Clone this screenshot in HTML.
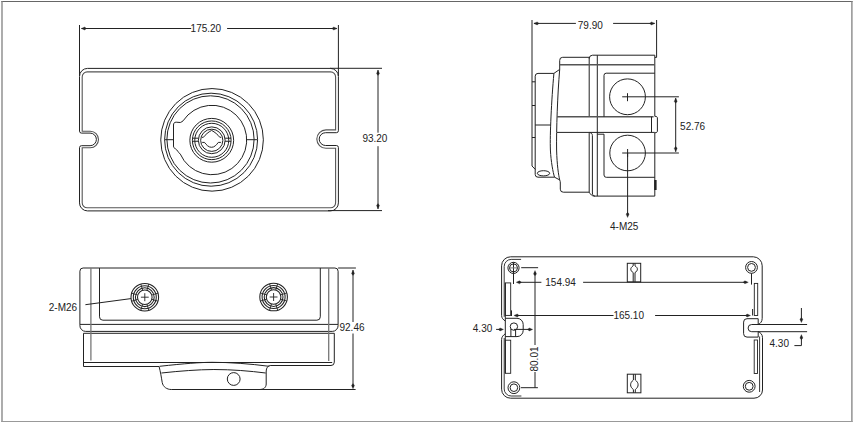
<!DOCTYPE html>
<html><head><meta charset="utf-8"><style>
html,body{margin:0;padding:0;background:#fff;}
body{width:854px;height:424px;overflow:hidden;}
svg{display:block;}
text{font-family:"Liberation Sans",sans-serif;fill:#222;}
</style></head><body>
<svg width="854" height="424" viewBox="0 0 854 424">
<rect width="854" height="424" fill="#fff"/>
<line x1="1.3" y1="1.5" x2="852.6" y2="1.5" stroke="#666" stroke-width="1.0"/>
<line x1="2.0" y1="1" x2="2.0" y2="422.1" stroke="#808080" stroke-width="1.3"/>
<line x1="851.9" y1="1" x2="851.9" y2="422.1" stroke="#808080" stroke-width="1.3"/>
<line x1="1.3" y1="421.5" x2="852.6" y2="421.5" stroke="#999" stroke-width="1.2"/>
<line x1="79.5" y1="25" x2="79.5" y2="76" stroke="#222" stroke-width="1.0"/>
<line x1="338.4" y1="25" x2="338.4" y2="76" stroke="#222" stroke-width="1.0"/>
<line x1="81.5" y1="28.5" x2="191.2" y2="28.5" stroke="#222" stroke-width="1.0"/>
<line x1="227.1" y1="28.5" x2="336.8" y2="28.5" stroke="#222" stroke-width="1.0"/>
<polygon points="81.30,28.50 84.70,27.00 86.50,28.50 84.70,30.00" fill="#222" stroke="#222" stroke-width="0.3"/>
<polygon points="337.10,28.50 333.70,27.00 331.90,28.50 333.70,30.00" fill="#222" stroke="#222" stroke-width="0.3"/>
<text x="190.6" y="32.1" font-size="10" text-anchor="start">175.20</text>
<line x1="330" y1="68.3" x2="382" y2="68.3" stroke="#222" stroke-width="1.0"/>
<line x1="328" y1="210.6" x2="382" y2="210.6" stroke="#222" stroke-width="1.0"/>
<line x1="378" y1="70" x2="378" y2="132.7" stroke="#222" stroke-width="1.0"/>
<line x1="378" y1="146.2" x2="378" y2="209" stroke="#222" stroke-width="1.0"/>
<polygon points="378.00,70.20 376.50,73.60 378.00,75.40 379.50,73.60" fill="#222" stroke="#222" stroke-width="0.3"/>
<polygon points="378.00,208.80 376.50,205.40 378.00,203.60 379.50,205.40" fill="#222" stroke="#222" stroke-width="0.3"/>
<text x="362.4" y="142.1" font-size="10" text-anchor="start">93.20</text>
<path d="M 79.5,76.4 A 8,8 0 0 1 87.5,68.4 H 330.4 A 8,8 0 0 1 338.4,76.4 V 130.7 A 2,2 0 0 1 336.4,132.7 H 325.6 A 6.4,6.4 0 0 0 325.6,145.5 H 336.4 A 2,2 0 0 1 338.4,147.5 V 202.9 A 8,8 0 0 1 330.4,210.9 H 87.5 A 8,8 0 0 1 79.5,202.9 V 147.7 A 2,2 0 0 1 81.5,145.7 H 90.1 A 6.3,6.3 0 0 0 90.1,133.1 H 81.5 A 2,2 0 0 1 79.5,131.1 Z" stroke="#222" stroke-width="1.0" fill="none" />
<path d="M 82.2,76.9 A 5,5 0 0 1 87.2,71.9 H 330.6 A 5,5 0 0 1 335.6,76.9 V 129.9 H 326 A 9.2,9.2 0 0 0 326,148.3 H 335.6 V 202.8 A 5,5 0 0 1 330.6,207.8 H 87.2 A 5,5 0 0 1 82.2,202.8 V 147.7 H 90.25 A 8.25,8.25 0 0 0 90.25,131.2 H 82.2 Z" stroke="#555" stroke-width="1.1" fill="none" />
<circle cx="212.05" cy="139.85" r="51.3" stroke="#222" stroke-width="1.0" fill="none"/>
<circle cx="211.1" cy="139.7" r="46.5" stroke="#222" stroke-width="1.0" fill="none"/>
<circle cx="210.5" cy="139.4" r="43.6" stroke="#222" stroke-width="1.0" fill="none"/>
<path d="M 183.06,120.85 A 34.7,34.7 0 1 1 180.30,154.11 C 178.3,152.5 177,149.6 175.5,148.8 C 174,148 173.5,147.5 173.5,146 V 125 C 173.5,123 174.5,122.2 176.2,122.2 L 180.3,122.5 C 181.5,122.3 182.6,121 183.06,120.85" stroke="#222" stroke-width="1.0" fill="none" />
<line x1="164.75" y1="139.7" x2="173.5" y2="139.7" stroke="#222" stroke-width="1.0"/>
<line x1="246.8" y1="139.7" x2="257.4" y2="139.7" stroke="#222" stroke-width="1.0"/>
<circle cx="211.75" cy="140.3" r="21.9" stroke="#222" stroke-width="1.0" fill="none"/>
<circle cx="211.75" cy="140.3" r="19.35" stroke="#222" stroke-width="1.0" fill="none"/>
<circle cx="211.75" cy="140.3" r="17.0" stroke="#222" stroke-width="1.0" fill="none"/>
<circle cx="211.75" cy="140.3" r="13.4" stroke="#222" stroke-width="1.0" fill="none"/>
<circle cx="211.75" cy="140.3" r="11.1" stroke="#222" stroke-width="1.0" fill="none"/>
<line x1="192.4" y1="138.2" x2="198.4" y2="138.2" stroke="#222" stroke-width="1.0"/>
<line x1="225.1" y1="138.2" x2="231.1" y2="138.2" stroke="#222" stroke-width="1.0"/>
<line x1="192.4" y1="141.25" x2="198.4" y2="141.25" stroke="#222" stroke-width="1.0"/>
<line x1="225.1" y1="141.25" x2="231.1" y2="141.25" stroke="#222" stroke-width="1.0"/>
<path d="M 202.0,137.3 H 203.4 C 205.5,134.6 208.2,132.2 211.6,130.4 C 215,132.2 217.7,134.6 219.8,137.3 H 221.2" stroke="#222" stroke-width="1.0" fill="none" />
<path d="M 202.2,142.4 H 204.5 C 206.5,145 208.5,147.3 211.5,147.3 C 214.5,147.3 216.4,145 218.3,142.4 H 220.9" stroke="#222" stroke-width="1.0" fill="none" />
<line x1="532" y1="20" x2="532" y2="166" stroke="#222" stroke-width="1.0"/>
<line x1="532" y1="166" x2="535.4" y2="169.5" stroke="#222" stroke-width="1.0"/>
<line x1="656.6" y1="20" x2="656.6" y2="57.4" stroke="#222" stroke-width="1.0"/>
<line x1="655" y1="57.4" x2="656.6" y2="57.4" stroke="#222" stroke-width="1.0"/>
<line x1="534" y1="23.4" x2="575.9" y2="23.4" stroke="#222" stroke-width="1.0"/>
<line x1="613.1" y1="23.4" x2="654.6" y2="23.4" stroke="#222" stroke-width="1.0"/>
<polygon points="533.80,23.40 537.20,21.90 539.00,23.40 537.20,24.90" fill="#222" stroke="#222" stroke-width="0.3"/>
<polygon points="654.80,23.40 651.40,21.90 649.60,23.40 651.40,24.90" fill="#222" stroke="#222" stroke-width="0.3"/>
<text x="577.8" y="29.2" font-size="10" text-anchor="start">79.90</text>
<path d="M 553.9,73.4 H 538 A 2.8,2.8 0 0 0 535.2,76.2 V 174.4 A 2.8,2.8 0 0 0 538,177.2 H 554.5" stroke="#222" stroke-width="1.0" fill="none" />
<line x1="553.9" y1="73.4" x2="559.7" y2="69.4" stroke="#222" stroke-width="1.0"/>
<line x1="532" y1="81.8" x2="535.2" y2="81.8" stroke="#222" stroke-width="1.0"/>
<line x1="532" y1="105.5" x2="535.2" y2="105.5" stroke="#222" stroke-width="1.0"/>
<line x1="532" y1="137.5" x2="535.2" y2="137.5" stroke="#222" stroke-width="1.0"/>
<line x1="535.2" y1="125" x2="550.5" y2="125" stroke="#222" stroke-width="1.0"/>
<ellipse cx="543.5" cy="173.3" rx="6.2" ry="2.6" stroke="#222" stroke-width="1.0" fill="none"/>
<path d="M 553.9,73.4 C 551.5,100 549.8,135 550.4,150 C 551,162 553,172 554.5,177.2" stroke="#222" stroke-width="1.0" fill="none" />
<path d="M 559.7,69.4 C 557.5,95 556.3,130 556.6,150 C 557,165 558.5,175 559.7,179.9" stroke="#222" stroke-width="1.0" fill="none" />
<line x1="554.5" y1="177.2" x2="559.7" y2="179.9" stroke="#222" stroke-width="1.0"/>
<path d="M 559.7,69.4 V 60.4 A 3,3 0 0 1 562.7,57.3 H 589.2" stroke="#222" stroke-width="1.0" fill="none" />
<path d="M 559.7,179.9 C 560.2,181 560.3,182 560.3,183 V 189.2 A 3,3 0 0 0 563.3,192.2 H 589.2" stroke="#222" stroke-width="1.0" fill="none" />
<line x1="589.2" y1="57.3" x2="589.2" y2="116.7" stroke="#222" stroke-width="1.0"/>
<line x1="589.2" y1="132.5" x2="589.2" y2="192.2" stroke="#222" stroke-width="1.0"/>
<path d="M 589.2,192.2 C 590.5,194.5 592,196 594.2,196.1" stroke="#222" stroke-width="1.0" fill="none" />
<path d="M 589.8,132.5 C 591.5,133 592.4,134 592.4,135.5 V 193 C 592.4,195 593.5,196.1 595,196.1" stroke="#222" stroke-width="1.0" fill="none" />
<path d="M 589.2,58.5 A 3.4,3.4 0 0 1 592.6,55.2 H 654.8 V 116.3 C 656.8,116.3 657.4,117 657.4,118 V 131 C 657.4,132 656.8,132.8 654.8,132.8 V 196.1 H 594.2" stroke="#222" stroke-width="1.0" fill="none" />
<line x1="597.3" y1="55.2" x2="597.3" y2="196.1" stroke="#222" stroke-width="1.0"/>
<line x1="559.7" y1="64.8" x2="654.8" y2="64.8" stroke="#555" stroke-width="1.4"/>
<line x1="557" y1="116.8" x2="653.6" y2="116.8" stroke="#555" stroke-width="1.4"/>
<line x1="557" y1="132.4" x2="654.8" y2="132.4" stroke="#222" stroke-width="1.0"/>
<line x1="651.5" y1="116.8" x2="651.5" y2="132.4" stroke="#222" stroke-width="1.0"/>
<path d="M 654.8,73.2 H 606.2 A 2.2,2.2 0 0 0 604,75.4 V 116.8" stroke="#222" stroke-width="1.0" fill="none" />
<path d="M 597.3,134.2 H 604 V 175 A 2.3,2.3 0 0 0 606.3,177.3 H 654.8" stroke="#222" stroke-width="1.0" fill="none" />
<circle cx="627.5" cy="96.8" r="17.9" stroke="#222" stroke-width="1.0" fill="none"/>
<circle cx="627.6" cy="153.0" r="17.8" stroke="#222" stroke-width="1.0" fill="none"/>
<line x1="622.2" y1="96.8" x2="678.9" y2="96.8" stroke="#222" stroke-width="1.0"/>
<line x1="627.5" y1="93.2" x2="627.5" y2="101.2" stroke="#222" stroke-width="1.0"/>
<line x1="622.2" y1="153.0" x2="678.9" y2="153.0" stroke="#222" stroke-width="1.0"/>
<line x1="627.6" y1="149.0" x2="627.6" y2="157.0" stroke="#222" stroke-width="1.0"/>
<line x1="627.6" y1="153.0" x2="627.6" y2="216" stroke="#222" stroke-width="1.0"/>
<polygon points="627.60,217.50 626.10,214.10 627.60,212.30 629.10,214.10" fill="#222" stroke="#222" stroke-width="0.3"/>
<rect x="654.2" y="180" width="2.4" height="10" fill="#222"/>
<line x1="675.7" y1="98.2" x2="675.7" y2="151.8" stroke="#222" stroke-width="1.0"/>
<polygon points="675.70,98.00 674.20,101.40 675.70,103.20 677.20,101.40" fill="#222" stroke="#222" stroke-width="0.3"/>
<polygon points="675.70,151.60 674.20,148.20 675.70,146.40 677.20,148.20" fill="#222" stroke="#222" stroke-width="0.3"/>
<text x="680.1" y="130.4" font-size="10" text-anchor="start">52.76</text>
<text x="610.0" y="230.0" font-size="10" text-anchor="start">4-M25</text>
<path d="M 79.9,324.4 V 271.2 A 3.2,3.2 0 0 1 83.1,268 H 334.9 A 3.2,3.2 0 0 1 338.1,271.2 V 324.4" stroke="#222" stroke-width="1.0" fill="none" />
<path d="M 79.9,324.4 V 325.6 A 5.8,5.8 0 0 0 85.7,331.4 H 332.3 A 5.8,5.8 0 0 0 338.1,325.6 V 324.4" stroke="#222" stroke-width="1.0" fill="none" />
<line x1="79.9" y1="324.4" x2="338.1" y2="324.4" stroke="#222" stroke-width="1.0"/>
<line x1="83.5" y1="333.3" x2="334.4" y2="333.3" stroke="#222" stroke-width="1.0"/>
<path d="M 83.5,333.3 V 366.5 H 159.1" stroke="#222" stroke-width="1.0" fill="none" />
<path d="M 270.2,365.5 H 331 A 3.3,3.3 0 0 0 334.3,362.2 V 333.3" stroke="#222" stroke-width="1.0" fill="none" />
<line x1="83.5" y1="362.5" x2="332.2" y2="362.5" stroke="#222" stroke-width="1.0"/>
<line x1="90.9" y1="268" x2="90.9" y2="360.6" stroke="#777" stroke-width="1.3"/>
<line x1="328.7" y1="268" x2="328.7" y2="361" stroke="#777" stroke-width="1.3"/>
<path d="M 99.5,268 V 316.8 A 3.4,3.4 0 0 0 102.9,320.2 H 316.9 A 3.4,3.4 0 0 0 320.3,316.8 V 268" stroke="#222" stroke-width="1.0" fill="none" />
<path d="M 159.1,366.5 C 160.5,372 161.5,378 162.2,382.4 C 163,387 167,389.5 171.3,389.5 H 355.6" stroke="#222" stroke-width="1.0" fill="none" />
<path d="M 259.6,389.5 C 263.5,389.5 266.2,387.5 266.2,384 V 371 C 266.4,368 267.5,366 270.2,365.5" stroke="#222" stroke-width="1.0" fill="none" />
<path d="M 159.6,366.3 C 185,363.5 200,362.4 212,362.3 C 230,362.3 250,363.8 269.2,366.3" stroke="#222" stroke-width="1.0" fill="none" />
<path d="M 161.4,373 C 180,371 198,369.6 213.9,369.5 C 232,369.5 250,371 265.7,373" stroke="#222" stroke-width="1.0" fill="none" />
<circle cx="233.7" cy="379.0" r="6.4" stroke="#222" stroke-width="1.0" fill="none"/>
<circle cx="144.8" cy="297.2" r="13.8" stroke="#222" stroke-width="1.05" fill="none"/>
<circle cx="144.8" cy="297.2" r="11.5" stroke="#222" stroke-width="1.05" fill="none"/>
<circle cx="144.8" cy="297.2" r="9.4" stroke="#222" stroke-width="1.05" fill="none"/>
<circle cx="144.8" cy="297.2" r="7.3" stroke="#222" stroke-width="1.05" fill="none"/>
<line x1="151.78" y1="295.07" x2="158.0" y2="293.17" stroke="#222" stroke-width="0.9"/>
<line x1="151.78" y1="299.33" x2="158.0" y2="301.23" stroke="#222" stroke-width="0.9"/>
<line x1="146.93" y1="304.18" x2="148.83" y2="310.4" stroke="#222" stroke-width="0.9"/>
<line x1="142.67" y1="304.18" x2="140.77" y2="310.4" stroke="#222" stroke-width="0.9"/>
<line x1="137.82" y1="299.33" x2="131.6" y2="301.23" stroke="#222" stroke-width="0.9"/>
<line x1="137.82" y1="295.07" x2="131.6" y2="293.17" stroke="#222" stroke-width="0.9"/>
<line x1="142.67" y1="290.22" x2="140.77" y2="284.0" stroke="#222" stroke-width="0.9"/>
<line x1="146.93" y1="290.22" x2="148.83" y2="284.0" stroke="#222" stroke-width="0.9"/>
<line x1="140.9" y1="297.2" x2="148.70000000000002" y2="297.2" stroke="#222" stroke-width="0.9"/>
<line x1="144.8" y1="293.2" x2="144.8" y2="301.2" stroke="#222" stroke-width="0.9"/>
<circle cx="273.6" cy="297.0" r="13.8" stroke="#222" stroke-width="1.05" fill="none"/>
<circle cx="273.6" cy="297.0" r="11.5" stroke="#222" stroke-width="1.05" fill="none"/>
<circle cx="273.6" cy="297.0" r="9.4" stroke="#222" stroke-width="1.05" fill="none"/>
<circle cx="273.6" cy="297.0" r="7.3" stroke="#222" stroke-width="1.05" fill="none"/>
<line x1="280.58" y1="294.87" x2="286.8" y2="292.97" stroke="#222" stroke-width="0.9"/>
<line x1="280.58" y1="299.13" x2="286.8" y2="301.03" stroke="#222" stroke-width="0.9"/>
<line x1="275.73" y1="303.98" x2="277.63" y2="310.2" stroke="#222" stroke-width="0.9"/>
<line x1="271.47" y1="303.98" x2="269.57" y2="310.2" stroke="#222" stroke-width="0.9"/>
<line x1="266.62" y1="299.13" x2="260.4" y2="301.03" stroke="#222" stroke-width="0.9"/>
<line x1="266.62" y1="294.87" x2="260.4" y2="292.97" stroke="#222" stroke-width="0.9"/>
<line x1="271.47" y1="290.02" x2="269.57" y2="283.8" stroke="#222" stroke-width="0.9"/>
<line x1="275.73" y1="290.02" x2="277.63" y2="283.8" stroke="#222" stroke-width="0.9"/>
<line x1="269.70000000000005" y1="297.0" x2="277.5" y2="297.0" stroke="#222" stroke-width="0.9"/>
<line x1="273.6" y1="293.0" x2="273.6" y2="301.0" stroke="#222" stroke-width="0.9"/>
<line x1="85.4" y1="304.7" x2="131" y2="298.6" stroke="#222" stroke-width="1.0"/>
<text x="48.8" y="310.8" font-size="10" text-anchor="start">2-M26</text>
<line x1="338.1" y1="268" x2="355.9" y2="268" stroke="#222" stroke-width="1.0"/>
<line x1="353" y1="270" x2="353" y2="322" stroke="#222" stroke-width="1.0"/>
<line x1="353" y1="333.5" x2="353" y2="387" stroke="#222" stroke-width="1.0"/>
<polygon points="353.00,270.20 351.50,273.60 353.00,275.40 354.50,273.60" fill="#222" stroke="#222" stroke-width="0.3"/>
<polygon points="353.00,388.80 351.50,385.40 353.00,383.60 354.50,385.40" fill="#222" stroke="#222" stroke-width="0.3"/>
<text x="339.5" y="331.2" font-size="10" text-anchor="start">92.46</text>
<path d="M 505.3,321 C 503.3,319.8 501.6,318 501.6,315.5 V 265.8 A 9,9 0 0 1 510.6,256.8 H 753.4 A 9,9 0 0 1 762.2,265.8 V 318.3 C 762.2,321.5 760.5,323.5 758.2,324.4" stroke="#222" stroke-width="1.0" fill="none" />
<path d="M 758.2,331.6 C 760.5,332.5 762.5,334.5 762.5,337.7 V 390 A 8.5,8.2 0 0 1 754.0,398.2 H 510.6 A 9,9 0 0 1 501.6,389.2 V 339.5 C 501.6,337 503.3,335 505.3,333.8" stroke="#222" stroke-width="1.0" fill="none" />
<path d="M 758.2,324.4 V 318.7 H 747 A 3.4,3.4 0 0 0 743.6,322.1 V 333.7 A 3.4,3.4 0 0 0 747,337.1 H 758.2 V 331.6" stroke="#222" stroke-width="1.0" fill="none" />
<path d="M 505.3,318.3 H 517 A 6.2,6.2 0 0 1 523.2,324.5 V 330.4 A 6.2,6.2 0 0 1 517,336.6 H 505.3" stroke="#222" stroke-width="1.0" fill="none" />
<line x1="505.3" y1="282.9" x2="505.3" y2="373.3" stroke="#222" stroke-width="1.0"/>
<path d="M 504.2,316.8 V 266.5 A 7,7 0 0 1 511.2,259.4 H 521.1" stroke="#222" stroke-width="0.9" fill="none" />
<path d="M 504.2,338 V 389 A 7,7 0 0 0 511.2,396 H 521.4" stroke="#222" stroke-width="0.9" fill="none" />
<path d="M 759.6,336.5 V 392" stroke="#222" stroke-width="0.9" fill="none" />
<rect x="505.3" y="282.9" width="5.4" height="32.5" stroke="#222" stroke-width="0.9" fill="none"/>
<rect x="505.3" y="340.2" width="5.4" height="33.1" stroke="#222" stroke-width="0.9" fill="none"/>
<rect x="754.3" y="283.4" width="3.4" height="32.1" stroke="#222" stroke-width="0.9" fill="none"/>
<rect x="754.2" y="340" width="3.3" height="33.5" stroke="#222" stroke-width="0.9" fill="none"/>
<circle cx="513.9" cy="326.6" r="3.7" stroke="#222" stroke-width="1.0" fill="none"/>
<line x1="510.9" y1="328.8" x2="510.9" y2="336.6" stroke="#222" stroke-width="1.0"/>
<line x1="515.6" y1="329.8" x2="515.6" y2="336.6" stroke="#222" stroke-width="1.0"/>
<circle cx="513.5" cy="267.9" r="5.6" stroke="#222" stroke-width="1.0" fill="none"/>
<circle cx="513.5" cy="267.9" r="4.0" stroke="#222" stroke-width="1.0" fill="none"/>
<circle cx="751.5" cy="267.4" r="5.9" stroke="#222" stroke-width="1.0" fill="none"/>
<circle cx="751.5" cy="267.4" r="3.9" stroke="#222" stroke-width="1.0" fill="none"/>
<circle cx="513.9" cy="387.7" r="5.9" stroke="#222" stroke-width="1.0" fill="none"/>
<circle cx="513.9" cy="387.7" r="3.8" stroke="#222" stroke-width="1.0" fill="none"/>
<circle cx="749.2" cy="386.3" r="5.9" stroke="#222" stroke-width="1.0" fill="none"/>
<circle cx="749.2" cy="386.3" r="3.9" stroke="#222" stroke-width="1.0" fill="none"/>
<line x1="513.5" y1="262.3" x2="513.5" y2="273.5" stroke="#222" stroke-width="1.0"/>
<line x1="509.9" y1="267.9" x2="517.3" y2="267.9" stroke="#777" stroke-width="1.0"/>
<rect x="627.3" y="263.3" width="13.4" height="18.6" stroke="#222" stroke-width="1" fill="none"/>
<rect x="627.3" y="374.2" width="13.6" height="18.6" stroke="#222" stroke-width="1" fill="none"/>
<path d="M 633.2,263.3 V 265.8 C 631.5,267 630.8,268 630.8,269.2 C 630.8,270.5 631.8,271.8 633.2,272.6 V 281.9" stroke="#222" stroke-width="1.0" fill="none" />
<path d="M 635.0,263.3 V 265.8 C 636.7,267 637.4,268 637.4,269.2 C 637.4,270.5 636.4,271.8 635.0,272.6 V 281.9" stroke="#222" stroke-width="1.0" fill="none" />
<path d="M 633.4,374.2 V 380 C 631.5,381.5 630.6,383 630.6,384.8 C 630.6,386.6 631.5,388 633.4,389.6 V 392.8" stroke="#222" stroke-width="1.0" fill="none" />
<path d="M 635.3,374.2 V 380 C 637.2,381.5 638.1,383 638.1,384.8 C 638.1,386.6 637.2,388 635.3,389.6 V 392.8" stroke="#222" stroke-width="1.0" fill="none" />
<path d="M 807.1,324.5 H 751.7 A 3.6,3.6 0 0 0 751.7,331.7 H 807.1" stroke="#222" stroke-width="1.0" fill="none" />
<line x1="513.5" y1="273.2" x2="513.5" y2="284" stroke="#222" stroke-width="1.0"/>
<line x1="751.5" y1="273.3" x2="751.5" y2="284.6" stroke="#222" stroke-width="1.0"/>
<line x1="518" y1="282.3" x2="541.4" y2="282.3" stroke="#222" stroke-width="1.0"/>
<line x1="583.1" y1="282.3" x2="746.5" y2="282.3" stroke="#222" stroke-width="1.0"/>
<polygon points="516.20,282.30 519.60,280.80 521.40,282.30 519.60,283.80" fill="#222" stroke="#222" stroke-width="0.3"/>
<polygon points="748.30,282.30 744.90,280.80 743.10,282.30 744.90,283.80" fill="#222" stroke="#222" stroke-width="0.3"/>
<text x="545.3" y="285.8" font-size="10" text-anchor="start">154.94</text>
<line x1="511.5" y1="310.4" x2="511.5" y2="316" stroke="#222" stroke-width="1.0"/>
<line x1="752.6" y1="309" x2="752.6" y2="315.5" stroke="#222" stroke-width="1.0"/>
<line x1="515.5" y1="315.5" x2="613.5" y2="315.5" stroke="#222" stroke-width="1.0"/>
<line x1="655.1" y1="315.5" x2="749" y2="315.5" stroke="#222" stroke-width="1.0"/>
<polygon points="513.90,315.50 517.30,314.00 519.10,315.50 517.30,317.00" fill="#222" stroke="#222" stroke-width="0.3"/>
<polygon points="750.50,315.50 747.10,314.00 745.30,315.50 747.10,317.00" fill="#222" stroke="#222" stroke-width="0.3"/>
<text x="613.4" y="318.8" font-size="10" text-anchor="start">165.10</text>
<line x1="521.2" y1="267.7" x2="538.1" y2="267.7" stroke="#222" stroke-width="1.0"/>
<line x1="521.0" y1="387.7" x2="537.9" y2="387.7" stroke="#222" stroke-width="1.0"/>
<line x1="535" y1="272" x2="535" y2="345" stroke="#222" stroke-width="1.0"/>
<line x1="535" y1="372" x2="535" y2="387.7" stroke="#222" stroke-width="1.0"/>
<polygon points="535.00,270.50 533.50,273.90 535.00,275.70 536.50,273.90" fill="#222" stroke="#222" stroke-width="0.3"/>
<text x="537.6" y="359" font-size="10" text-anchor="middle" transform="rotate(-90 537.6 359)">80.01</text>
<line x1="496.1" y1="329.4" x2="502" y2="329.4" stroke="#222" stroke-width="1.0"/>
<polygon points="503.50,329.40 500.10,327.90 498.30,329.40 500.10,330.90" fill="#222" stroke="#222" stroke-width="0.3"/>
<line x1="514" y1="329.4" x2="531" y2="329.4" stroke="#222" stroke-width="1.0"/>
<polygon points="532.70,329.40 529.30,327.90 527.50,329.40 529.30,330.90" fill="#222" stroke="#222" stroke-width="0.3"/>
<text x="472.8" y="332.0" font-size="10" text-anchor="start">4.30</text>
<line x1="801.4" y1="308" x2="801.4" y2="321" stroke="#222" stroke-width="1.0"/>
<polygon points="801.40,322.60 799.90,319.20 801.40,317.40 802.90,319.20" fill="#222" stroke="#222" stroke-width="0.3"/>
<line x1="801.4" y1="336" x2="801.4" y2="345.6" stroke="#222" stroke-width="1.0"/>
<polygon points="801.40,334.60 799.90,338.00 801.40,339.80 802.90,338.00" fill="#222" stroke="#222" stroke-width="0.3"/>
<line x1="794.4" y1="345.6" x2="801.4" y2="345.6" stroke="#222" stroke-width="1.0"/>
<text x="769.5" y="347.0" font-size="10" text-anchor="start">4.30</text>
</svg>
</body></html>
